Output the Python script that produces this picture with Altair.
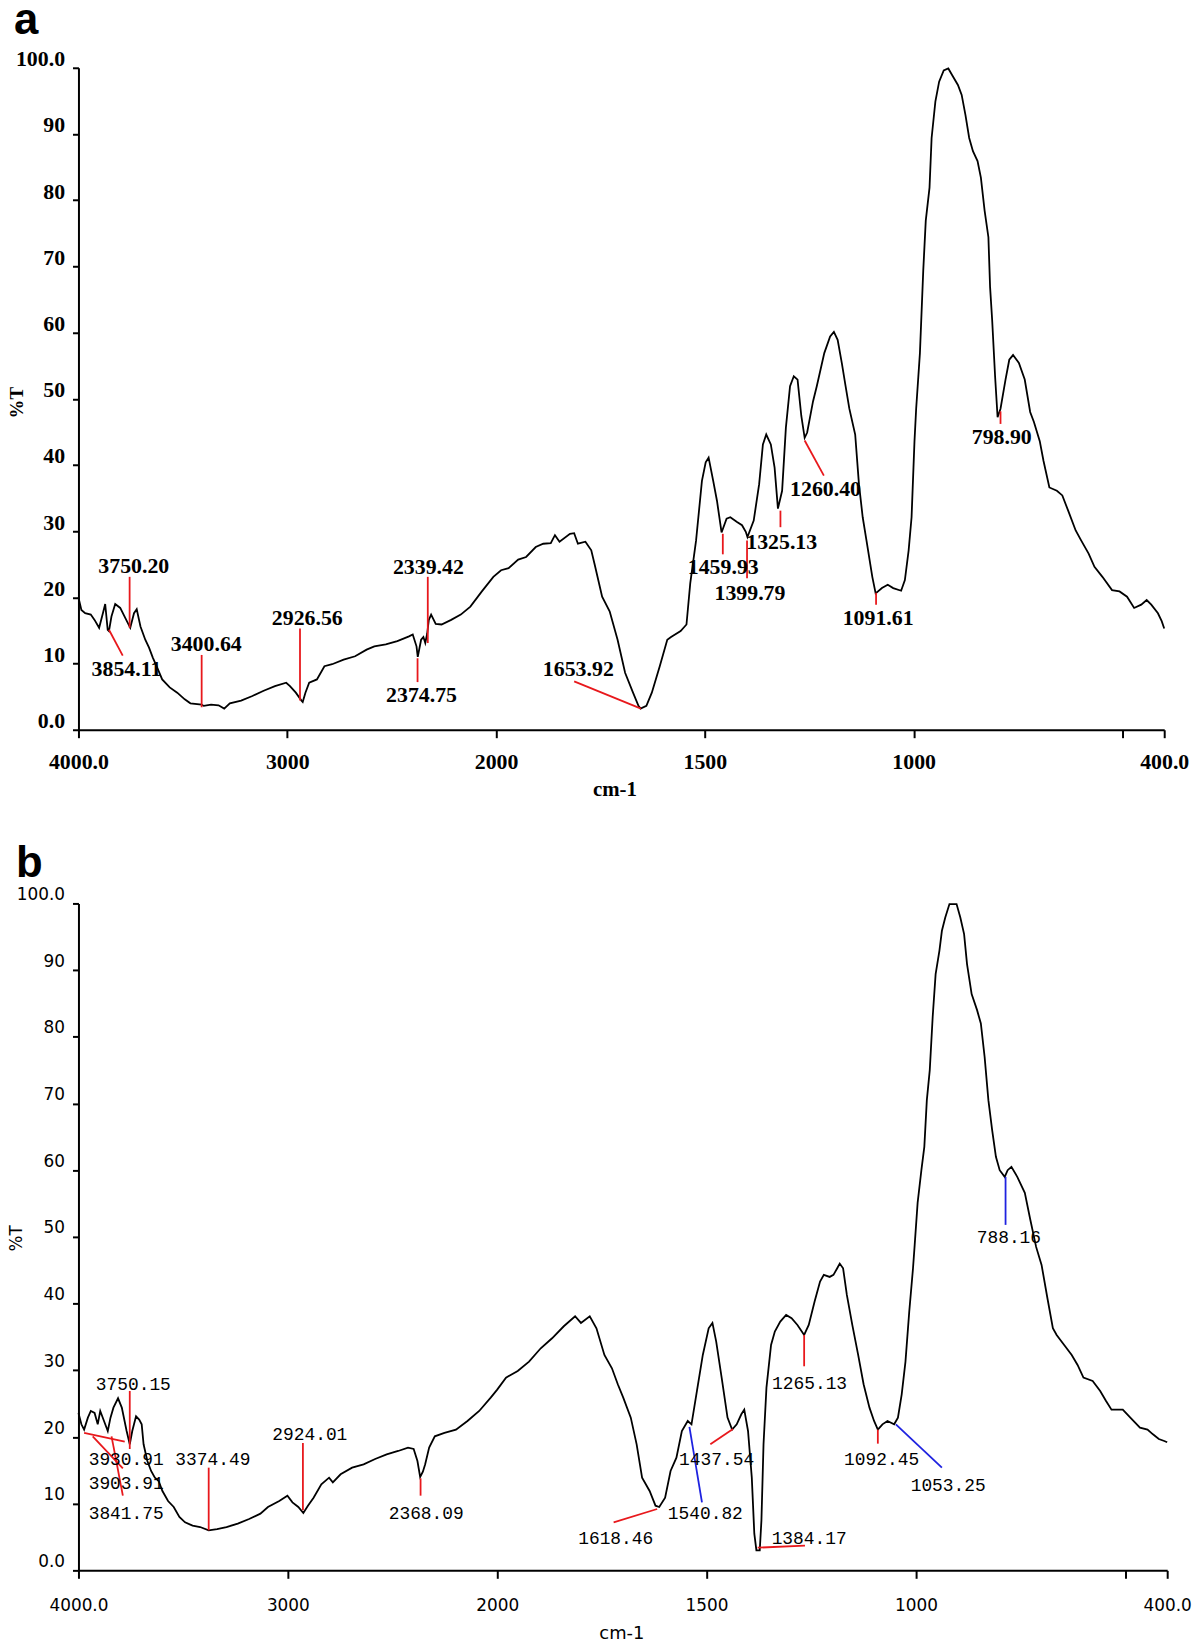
import altair as alt
import pandas as pd

# ---------------- Panel a spectrum ----------------
a_wn = [4000, 3986, 3968, 3941, 3923, 3901, 3883, 3872, 3860, 3854, 3842, 3824, 3800, 3779, 3752,
        3734, 3721, 3703, 3680, 3662, 3644, 3626, 3599, 3563, 3527, 3491, 3464, 3410, 3400, 3365,
        3329, 3302, 3275, 3221, 3167, 3113, 3059, 3005, 2987, 2959, 2932, 2926, 2913, 2895, 2858,
        2822, 2785, 2730, 2675, 2620, 2583, 2528, 2473, 2417, 2399, 2381, 2375, 2359, 2348, 2339,
        2330, 2322, 2311, 2289, 2261, 2215, 2169, 2123, 2068, 2013, 1988, 1970, 1947, 1928, 1905,
        1887, 1869, 1859, 1848, 1823, 1813, 1804, 1786, 1772, 1764, 1746, 1728, 1709, 1691, 1672,
        1659, 1654, 1640, 1627, 1608, 1590, 1581, 1558, 1544, 1535, 1521, 1507, 1498, 1491, 1480,
        1471, 1460, 1448, 1439, 1423, 1411, 1402, 1398, 1383, 1370, 1361, 1353, 1342, 1333, 1325,
        1315, 1306, 1296, 1287, 1278, 1269, 1261, 1255, 1241, 1232, 1214, 1200, 1191, 1182, 1172,
        1163, 1154, 1140, 1131, 1122, 1113, 1099, 1091, 1076, 1062, 1049, 1030, 1021, 1012, 1005,
        998, 994, 985, 977, 971, 962, 957, 948, 939, 928, 917, 908, 894, 885, 876, 867, 858, 847,
        839, 830, 821, 817, 812, 805, 799, 792, 780, 771, 762, 748, 734, 721, 712, 698, 689, 675,
        657, 644, 630, 612, 599, 581, 567, 548, 525, 507, 489, 472, 455, 442, 431, 415, 406, 400]
a_t = [20.0, 18.1, 17.6, 17.4, 16.6, 15.4, 17.6, 19.0, 15.1, 14.9, 17.1, 19.0, 18.4, 17.1, 15.4,
       17.6, 18.2, 15.6, 13.6, 12.4, 10.9, 9.6, 7.6, 6.4, 5.6, 4.6, 4.0, 3.8, 3.6, 3.8,
       3.7, 3.2, 4.0, 4.4, 5.1, 5.9, 6.6, 7.1, 6.6, 5.6, 4.4, 4.2, 5.6, 7.1, 7.6,
       9.6, 9.9, 10.6, 11.1, 12.1, 12.6, 12.9, 13.4, 14.1, 14.4, 12.6, 11.0, 13.6, 14.0, 13.1,
       14.5, 16.6, 17.4, 16.0, 15.9, 16.6, 17.4, 18.6, 20.9, 23.1, 24.1, 24.4, 25.7, 26.1, 27.6,
       28.1, 28.2, 29.4, 28.4, 29.6, 29.7, 28.1, 28.4, 27.1, 25.0, 20.1, 17.9, 13.6, 8.6, 5.6,
       3.6, 3.2, 3.6, 5.6, 9.6, 13.6, 14.0, 14.9, 15.9, 22.1, 28.6, 37.6, 40.4, 41.1, 37.6,
       34.6, 29.8, 31.9, 32.1, 31.4, 30.9, 29.9, 29.1, 31.6, 37.1, 43.1, 44.6, 43.1, 39.6, 33.4,
       36.1, 45.6, 51.9, 53.4, 52.9, 47.4, 44.1, 44.9, 49.6, 51.9, 56.9, 59.4, 60.1, 58.9, 55.4,
       51.9, 48.5, 44.6, 37.1, 32.1, 28.6, 23.1, 20.6, 21.4, 21.9, 21.4, 21.0, 22.6, 27.1, 32.1,
       43.6, 48.5, 56.9, 69.4, 76.9, 81.9, 89.4, 94.9, 97.9, 99.6, 99.9, 98.9, 97.4, 95.9, 92.9, 89.4, 87.4, 85.9,
       83.4, 78.4, 74.4, 66.9, 61.9, 53.4, 47.2, 48.5, 52.9, 55.9, 56.6, 55.4, 52.9, 48.0, 46.5, 43.6, 40.6, 36.6,
       36.1, 35.4, 33.1, 30.1, 28.6, 26.6, 24.6, 23.1, 21.1, 20.9, 20.1, 18.4, 18.9, 19.6, 18.9, 17.6, 16.4, 15.3]

# Panel a peak labels (text position, leader line ends)
a_lab = ["3750.20", "3854.11", "3400.64", "2926.56", "2339.42", "2374.75", "1653.92",
         "1459.93", "1399.79", "1325.13", "1260.40", "1091.61", "798.90"]
a_tx = [3735, 3770, 3388, 2904, 2324, 2357, 1803, 1456, 1392, 1316, 1211, 1085, 789]
a_ty = [24.7, 9.2, 12.9, 16.9, 24.6, 5.2, 9.2, 24.6, 20.7, 28.4, 36.4, 16.9, 44.2]
a_x1 = [3755, 3854, 3410, 2939, 2327, 2376, 1813, 1457, 1399, 1319, 1261, 1090, 792]
a_y1 = [23.1, 15.1, 11.3, 15.3, 23.1, 10.8, 7.3, 29.6, 28.6, 33.1, 43.7, 20.7, 48.1]
a_x2 = [3755, 3788, 3410, 2939, 2327, 2376, 1653, 1457, 1399, 1319, 1215, 1090, 792]
a_y2 = [15.4, 11.2, 3.4, 4.4, 13.1, 7.2, 3.2, 26.5, 22.9, 30.6, 38.4, 18.9, 46.2]
a_col = ["red"] * 13

# ---------------- Panel b spectrum ----------------
b_wn = [4000, 3986, 3973, 3955, 3941, 3923, 3908, 3896, 3878, 3860, 3847, 3833, 3811, 3793, 3770,
        3755, 3743, 3725, 3710, 3698, 3689, 3671, 3653, 3635, 3617, 3599, 3572, 3545, 3518, 3491,
        3455, 3419, 3378, 3338, 3293, 3239, 3185, 3131, 3095, 3041, 3002, 2978, 2950, 2926, 2904,
        2877, 2840, 2803, 2785, 2748, 2693, 2638, 2583, 2528, 2473, 2426, 2399, 2381, 2368, 2355,
        2344, 2325, 2298, 2252, 2197, 2142, 2086, 2031, 2000, 1979, 1951, 1924, 1896, 1869, 1841,
        1814, 1800, 1779, 1763, 1744, 1726, 1712, 1699, 1681, 1667, 1654, 1636, 1622, 1613, 1599,
        1586, 1572, 1559, 1545, 1536, 1523, 1509, 1495, 1486, 1477, 1464, 1450, 1439, 1428, 1417,
        1410, 1401, 1392, 1386, 1381, 1373, 1369, 1364, 1357, 1346, 1337, 1324, 1310, 1297, 1283,
        1267, 1256, 1242, 1229, 1220, 1206, 1197, 1188, 1182, 1174, 1165, 1152, 1138, 1125, 1111,
        1100, 1091, 1080, 1068, 1052, 1043, 1034, 1025, 1016, 1007, 1003, 996, 987, 980, 974,
        967, 960, 953, 944, 938, 930, 920, 903, 894, 885, 878, 867, 854, 845, 836,
        827, 818, 809, 800, 788, 781, 772, 758, 740, 727, 713, 700, 686, 673, 664,
        646, 628, 614, 600, 578, 560, 546, 533, 506, 488, 465, 447, 434, 420, 407, 400]
b_t = [23.6, 21.9, 21.1, 22.9, 23.9, 23.6, 21.9, 23.9, 22.4, 20.9, 22.9, 24.4, 25.8, 24.4, 20.9,
       18.9, 20.9, 23.1, 22.6, 21.9, 18.9, 16.4, 14.9, 13.9, 13.4, 11.9, 10.4, 9.5, 8.0, 7.2,
       6.7, 6.5, 6.0, 6.2, 6.5, 7.0, 7.7, 8.5, 9.5, 10.4, 11.2, 10.2, 9.5, 8.6, 9.7,
       10.9, 12.9, 13.9, 13.2, 14.4, 15.4, 15.9, 16.7, 17.4, 17.9, 18.4, 18.2, 16.4, 14.0, 14.8,
       15.9, 18.4, 20.1, 20.6, 21.1, 22.4, 23.9, 25.9, 27.1, 28.9, 29.9, 31.3, 33.3, 34.8, 36.6,
       38.1, 37.1, 38.1, 36.3, 32.3, 30.3, 27.9, 25.9, 22.9, 18.9, 13.9, 11.9, 9.7, 9.5, 10.9,
       14.9, 16.9, 20.9, 22.4, 21.9, 26.9, 32.3, 36.3, 37.1, 34.3, 28.9, 22.9, 21.1, 21.9, 23.4,
       24.1, 20.9, 13.9, 5.5, 3.0, 3.0, 7.5, 18.9, 27.4, 33.8, 35.8, 37.3, 38.3, 37.8, 36.8,
       35.3, 36.8, 40.3, 43.3, 44.3, 44.0, 44.3, 45.3, 46.0, 45.3, 41.3, 36.8, 32.3, 27.9, 24.4,
       22.4, 21.1, 21.9, 22.4, 21.9, 22.9, 26.4, 31.3, 38.8, 45.3, 48.8, 55.1, 60.0, 63.5, 70.5,
       75.0, 83.0, 89.4, 92.9, 95.9, 97.9, 99.9, 99.9, 97.9, 95.4, 90.9, 86.4, 84.0, 82.0, 77.0,
       70.5, 66.0, 62.0, 60.0, 59.0, 60.0, 60.5, 59.0, 56.6, 52.6, 48.5, 45.8, 40.8, 36.3, 35.3,
       33.8, 32.3, 30.8, 28.9, 28.4, 26.9, 25.4, 24.1, 24.1, 22.9, 21.4, 21.1, 20.4, 19.7, 19.4, 19.2]

b_lab = ["3750.15", "3930.91", "3903.91", "3841.75", "3374.49", "2924.01", "2368.09", "1618.46",
         "1540.82", "1437.54", "1384.17", "1265.13", "1092.45", "1053.25", "788.16"]
b_tx = [3738, 3772, 3772, 3772, 3358, 2895, 2339, 1717, 1503, 1476, 1255, 1254, 1082, 923, 778]
b_ty = [27.8, 16.5, 12.9, 8.5, 16.5, 20.3, 8.5, 4.7, 8.5, 16.5, 4.7, 28.0, 16.5, 12.7, 49.9]
b_x1 = [3755, 3973, 3932, 3842, 3378, 2928, 2366, 1722, 1541, 1491, 1378, 1267, 1091, 1048, 786]
b_y1 = [26.9, 20.6, 20.1, 20.1, 15.4, 19.1, 13.8, 7.2, 21.5, 18.9, 3.4, 35.3, 21.1, 21.9, 59.0]
b_x2 = [3755, 3779, 3788, 3788, 3378, 2928, 2366, 1618, 1511, 1437, 1265, 1267, 1091, 938, 786]
b_y2 = [18.2, 19.3, 15.3, 11.2, 6.0, 9.0, 11.2, 9.2, 10.2, 21.2, 3.7, 30.6, 19.0, 15.4, 51.8]
b_col = ["red", "red", "red", "red", "red", "red", "red", "red",
         "blue", "red", "red", "red", "red", "blue", "blue"]

x_ticks = [4000, 3000, 2000, 1500, 1000, 500, 400]
y_ticks = [0, 10, 20, 30, 40, 50, 60, 70, 80, 90, 100]

COLORS = {"red": "#e8181c", "blue": "#1e22e0"}

STYLE_A = dict(W=1094, H=667,
               tick_font="Liberation Serif", tick_size=22, tick_weight="bold",
               ann_font="Liberation Serif", ann_size=22, ann_weight="bold",
               title_font="Liberation Serif", title_size=21, ytitle_size=19, title_weight="bold",
               ytitle_x=-56, letter_x=-65, letter_y=-34, xtitle_x=540, xtitle_y=60,
               xlabel_pad=24)
STYLE_B = dict(W=1097, H=672,
               tick_font="DejaVu Sans", tick_size=17, tick_weight="normal",
               ann_font="Liberation Mono", ann_size=18, ann_weight="normal",
               title_font="DejaVu Sans", title_size=18, ytitle_size=17, title_weight="normal",
               ytitle_x=-57, letter_x=-63, letter_y=-27, xtitle_x=547, xtitle_y=64,
               xlabel_pad=27)


def make_panel(wn, t, lab, tx, ty, x1, y1, x2, y2, col, letter, st):
    W, H = st["W"], st["H"]
    spec = pd.DataFrame({"wn": wn, "t": t})
    ann = pd.DataFrame({"label": lab, "tx": tx, "ty": ty, "x1": x1, "y1": y1,
                        "x2": x2, "y2": y2, "col": [COLORS[c] for c in col]})
    let = pd.DataFrame({"letter": [letter]})

    # FTIR convention: 4000-2000 cm-1 drawn at half the scale of 2000-400 cm-1
    xscale = alt.Scale(domain=[4000, 2000, 400], range=[0, W * 2000 / 5200, W],
                       zero=False, nice=False)
    yscale = alt.Scale(domain=[0, 100], zero=False, nice=False)
    xaxis = alt.Axis(
        values=x_ticks, grid=False, title="cm-1",
        labelExpr="datum.value == 500 ? '' : (datum.value == 4000 || datum.value == 400) ? format(datum.value, '.1f') : format(datum.value, 'd')",
        labelFlush=False, labelOverlap=False, labelFont=st["tick_font"],
        labelFontSize=st["tick_size"], labelFontWeight=st["tick_weight"], labelColor="black",
        labelBaseline="middle", labelPadding=st["xlabel_pad"], tickSize=8, tickWidth=2,
        tickColor="black", domainColor="black", domainWidth=2, titleFont=st["title_font"],
        titleFontSize=st["title_size"], titleFontWeight=st["title_weight"], titleColor="black",
        titleX=st["xtitle_x"], titleY=st["xtitle_y"], titleBaseline="middle", titleAlign="center")
    yaxis = alt.Axis(
        values=y_ticks, grid=False, title="%T",
        labelExpr="(datum.value == 0 || datum.value == 100) ? format(datum.value, '.1f') : format(datum.value, 'd')",
        labelFlush=False, labelOverlap=False, labelFont=st["tick_font"],
        labelFontSize=st["tick_size"], labelFontWeight=st["tick_weight"], labelColor="black",
        labelBaseline="middle", labelOffset=-9, labelPadding=8, tickSize=6, tickWidth=2,
        tickColor="black", domainColor="black", domainWidth=2, titleFont=st["title_font"],
        titleFontSize=st["ytitle_size"], titleFontWeight=st["title_weight"], titleColor="black",
        titleAngle=270, titleX=st["ytitle_x"], titleY=337, titleBaseline="alphabetic",
        titleAlign="center")

    def X(f):
        return alt.X(f, type="quantitative", scale=xscale, axis=xaxis)

    def Y(f):
        return alt.Y(f, type="quantitative", scale=yscale, axis=yaxis)

    line = alt.Chart(spec).mark_line(color="black", strokeWidth=1.8).encode(
        x=X("wn"), y=Y("t"), order="wn:Q")
    rules = alt.Chart(ann).mark_rule(strokeWidth=1.8).encode(
        x=X("x1"), x2="x2", y=Y("y1"), y2="y2", color=alt.Color("col:N", scale=None))
    texts = alt.Chart(ann).mark_text(
        font=st["ann_font"], fontSize=st["ann_size"], fontWeight=st["ann_weight"],
        color="black", align="center", baseline="middle").encode(
        x=X("tx"), y=Y("ty"), text="label:N")
    letter_mark = alt.Chart(let).mark_text(
        font="Liberation Sans", fontSize=44, fontWeight="bold", color="black",
        align="left", baseline="alphabetic").encode(
        x=alt.value(st["letter_x"]), y=alt.value(st["letter_y"]), text="letter:N")
    return alt.layer(line, rules, texts, letter_mark).properties(width=W, height=H)


panel_a = make_panel(a_wn, a_t, a_lab, a_tx, a_ty, a_x1, a_y1, a_x2, a_y2, a_col, "a", STYLE_A)
panel_b = make_panel(b_wn, b_t, b_lab, b_tx, b_ty, b_x1, b_y1, b_x2, b_y2, b_col, "b", STYLE_B)

chart = alt.vconcat(panel_a, panel_b, spacing=43).properties(
    padding={"left": 0, "top": -15, "right": 0, "bottom": 0},
    background="white",
).configure_view(strokeWidth=0)

chart.save("out.html", embed_options={"renderer": "svg", "actions": False})
